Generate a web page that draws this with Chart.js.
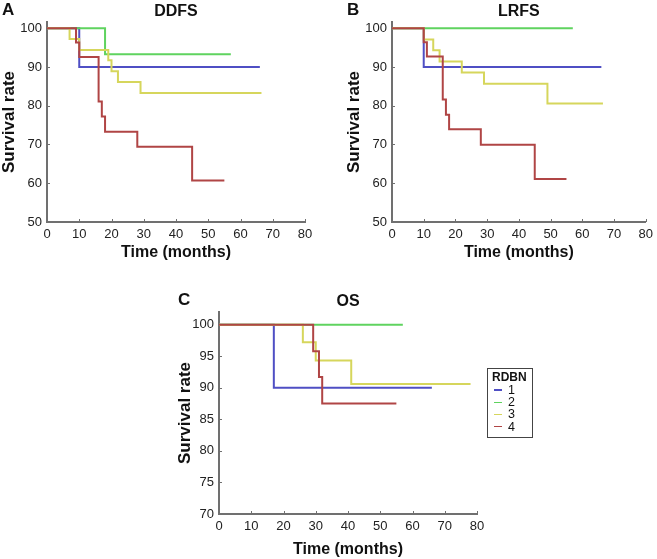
<!DOCTYPE html>
<html>
<head>
<meta charset="utf-8">
<script src="https://cdn.jsdelivr.net/npm/chart.js@4.4.1/dist/chart.umd.min.js"></script>
<style>
  body { margin: 0; width: 657px; height: 559px; position: relative; overflow: hidden; background: #fff; font-family: 'Liberation Sans', Arial, sans-serif; }
  canvas { position: absolute; }
  #legend { position: absolute; left: 487px; top: 368px; width: 44px; height: 68px; border: 1px solid #444; color: #111; }
  .lg-title { font-weight: bold; font-size: 12px; line-height: 14px; margin: 1px 0 0 4px; }
  .lg-row { font-size: 12.5px; line-height: 12.2px; height: 12.2px; padding-left: 6px; display: flex; align-items: center; }
  .lg-line { display: inline-block; width: 8px; height: 1.5px; margin-right: 6px; }
</style>
</head>
<body>
<canvas id="ddfs" width="321" height="267" style="left:-1px; top:0px;"></canvas>
<canvas id="lrfs" width="314" height="267" style="left:344px; top:0px;"></canvas>
<canvas id="os" width="320" height="269" style="left:175px; top:290px;"></canvas>
<div id="legend"></div>
<script>
// RDBN groups
const groups = ['1', '2', '3', '4'];
const colors = ['#4f4fc4', '#5fd35f', '#d6d65c', '#b04545'];

const xTicks = [0, 10, 20, 30, 40, 50, 60, 70, 80];
const yTicksTop = [50, 60, 70, 80, 90, 100];
const yTicksOs = [70, 75, 80, 85, 90, 95, 100];

// DDFS (panel A): event times (months) and survival rate per group
const ddfsTime = [
  [0, 10, 66],
  [0, 18, 57],
  [0, 7, 10, 19, 20, 22, 29, 66.5],
  [0, 9, 10, 16, 17, 18, 28, 45, 55],
];
const ddfsRate = [
  [100, 90, 90],
  [100, 93.3, 93.3],
  [100, 97.2, 94.4, 91.7, 88.9, 86.1, 83.3, 83.3],
  [100, 96.3, 92.6, 81.1, 77.2, 73.3, 69.4, 60.7, 60.7],
];

// LRFS (panel B)
const lrfsTime = [
  [0, 10, 66],
  [0, 57],
  [0, 10, 13, 15, 22, 29, 49, 66.5],
  [0, 10, 11, 16, 17, 18, 28, 45, 55],
];
const lrfsRate = [
  [100, 90, 90],
  [100, 100],
  [100, 97.1, 94.3, 91.4, 88.6, 85.7, 80.6, 80.6],
  [100, 96.4, 92.7, 81.6, 77.7, 73.9, 69.9, 61.1, 61.1],
];

// OS (panel C)
const osTime = [
  [0, 17, 66],
  [0, 57],
  [0, 26, 30, 41, 78],
  [0, 29.2, 31, 32, 55],
];
const osRate = [
  [100, 90, 90],
  [100, 100],
  [100, 97.2, 94.3, 90.6, 90.6],
  [100, 95.8, 91.7, 87.5, 87.5],
];

const axisColor = '#707070';
Chart.defaults.font.family = "'Liberation Sans', Arial, sans-serif";

// small tick marks pointing into the plot, plus the panel letter
const panelExtras = {
  id: 'panelExtras',
  beforeDatasetsDraw(chart, args, opts) {
    const { ctx, chartArea, scales: { x, y } } = chart;
    ctx.save();
    ctx.strokeStyle = axisColor;
    ctx.lineWidth = 1;
    x.ticks.forEach((t) => {
      const px = Math.round(x.getPixelForValue(t.value)) + 0.5;
      ctx.beginPath();
      ctx.moveTo(px, chartArea.bottom);
      ctx.lineTo(px, chartArea.bottom - 3);
      ctx.stroke();
    });
    y.ticks.forEach((t) => {
      const py = Math.round(y.getPixelForValue(t.value)) + 0.5;
      ctx.beginPath();
      ctx.moveTo(chartArea.left, py);
      ctx.lineTo(chartArea.left + 3, py);
      ctx.stroke();
    });
    ctx.restore();
  },
  afterDraw(chart, args, opts) {
    const { ctx } = chart;
    ctx.save();
    ctx.fillStyle = '#111';
    ctx.font = "bold 17px 'Liberation Sans', Arial, sans-serif";
    ctx.textBaseline = 'alphabetic';
    ctx.fillText(opts.letter, 3, 15);
    ctx.restore();
  },
};

function makeChart(id, letter, title, times, rates, yMin, yMax, yTicks, yWidth, padRight, xTitlePad) {
  const datasets = groups.map((g, i) => ({
    label: g,
    data: times[i].map((t, k) => ({ x: t, y: rates[i][k] })),
    borderColor: colors[i],
    borderWidth: 2,
    pointRadius: 0,
    stepped: true,
    fill: false,
    order: groups.length - i,
  }));

  return new Chart(document.getElementById(id), {
    type: 'line',
    data: { datasets },
    plugins: [panelExtras],
    options: {
      responsive: false,
      animation: false,
      events: [],
      layout: { padding: { left: 0, right: padRight, top: 0, bottom: 0 } },
      plugins: {
        legend: { display: false },
        tooltip: { enabled: false },
        panelExtras: { letter },
        title: {
          display: true,
          text: title,
          fullSize: false,
          color: '#111',
          font: { size: 16, weight: 'bold' },
          padding: { top: 1.5, bottom: 1.3 },
        },
      },
      scales: {
        x: {
          type: 'linear',
          min: 0,
          max: 80,
          grid: { display: false, drawTicks: false },
          border: { color: axisColor, width: 2 },
          ticks: { color: '#222', font: { size: 13 }, padding: 5 },
          afterBuildTicks: (scale) => { scale.ticks = xTicks.map((v) => ({ value: v })); },
          afterFit: (scale) => { scale.height = 45; },
          title: {
            display: true,
            text: 'Time (months)',
            color: '#111',
            font: { size: 16, weight: 'bold' },
            padding: { top: 4, bottom: xTitlePad },
          },
        },
        y: {
          type: 'linear',
          min: yMin,
          max: yMax,
          grid: { display: false, drawTicks: false },
          border: { color: axisColor, width: 2 },
          ticks: { color: '#222', font: { size: 13 }, padding: 5 },
          afterBuildTicks: (scale) => { scale.ticks = yTicks.map((v) => ({ value: v })); },
          afterFit: (scale) => { scale.width = yWidth; },
          title: {
            display: true,
            text: 'Survival rate',
            color: '#111',
            font: { size: 17, weight: 'bold' },
            padding: { top: 0, bottom: 0 },
          },
        },
      },
    },
  });
}

makeChart('ddfs', 'A', 'DDFS', ddfsTime, ddfsRate, 50, 101.6, yTicksTop, 48, 15, 4.6);
makeChart('lrfs', 'B', 'LRFS', lrfsTime, lrfsRate, 50, 101.6, yTicksTop, 48, 8, 4.6);
makeChart('os', 'C', 'OS', osTime, osRate, 70, 102, yTicksOs, 44, 18, 0);

// legend box for panel C
const legend = document.getElementById('legend');
legend.innerHTML = '<div class="lg-title">RDBN</div>' + groups.map((g, i) =>
  `<div class="lg-row"><span class="lg-line" style="background:${colors[i]}"></span>${g}</div>`
).join('');
</script>
</body>
</html>
